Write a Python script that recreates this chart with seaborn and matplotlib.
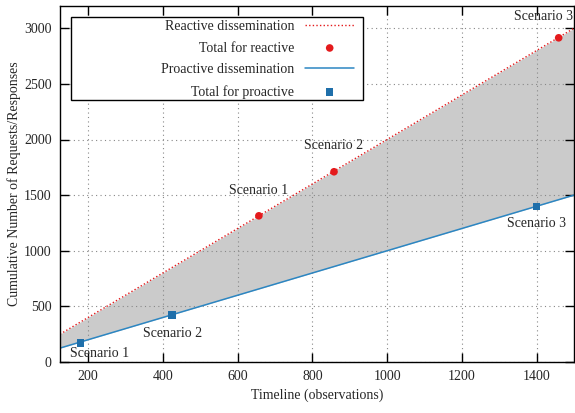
import matplotlib
matplotlib.use("Agg")
import matplotlib.pyplot as plt
from matplotlib.patches import Rectangle
import seaborn as sns
import pandas as pd

# dissemination lines (end points of the timeline)
line_x = [125, 1500]
reactive_line = [250, 3000]
proactive_line = [125, 1500]

# scenario totals
scenarios = ["Scenario 1", "Scenario 2", "Scenario 3"]
reactive_x = [657, 858, 1459]
reactive_y = [1314, 1710, 2914]
proactive_x = [179, 425, 1400]
proactive_y = [172, 422, 1395]

xticks = [200, 400, 600, 800, 1000, 1200, 1400]
yticks = [0, 500, 1000, 1500, 2000, 2500, 3000]

sns.set_style("ticks")
plt.rcParams["font.family"] = ["Liberation Serif", "DejaVu Serif"]
plt.rcParams["font.size"] = 10
plt.rcParams["xtick.direction"] = "in"
plt.rcParams["ytick.direction"] = "in"

red = "#e41a1c"
blue = "#2c86c2"
blue_sq = "#1f6faa"

fig = plt.figure(figsize=(5.75, 4.13), dpi=100)
ax = fig.add_axes([60 / 575, 51 / 413, 514 / 575, 356 / 413])

lines = pd.DataFrame({"x": line_x, "reactive": reactive_line, "proactive": proactive_line})
ax.fill_between(lines["x"], lines["proactive"], lines["reactive"], color="#cbcbcb", lw=0, zorder=1)
sns.lineplot(data=lines, x="x", y="reactive", ax=ax, color=red, lw=1, ls=(0, (1, 1.6)),
             label="Reactive dissemination", zorder=3)
sns.scatterplot(x=reactive_x, y=reactive_y, ax=ax, color=red, marker="o", s=30,
                edgecolor="none", label="Total for reactive", zorder=4)
sns.lineplot(data=lines, x="x", y="proactive", ax=ax, color=blue, lw=1.1,
             label="Proactive dissemination", zorder=3)
sns.scatterplot(x=proactive_x, y=proactive_y, ax=ax, color=blue_sq, marker="s", s=28,
                edgecolor="none", label="Total for proactive", zorder=4)

# scenario labels (offsets in points)
r_off = [(0, 18), (0, 19), (-11, 15)]
p_off = [(14, -8), (0, -13), (0, -12)]
for name, x, y, off in zip(scenarios, reactive_x, reactive_y, r_off):
    ax.annotate(name, (x, y), xytext=off, textcoords="offset points",
                ha="center", va="center", zorder=5)
for name, x, y, off in zip(scenarios, proactive_x, proactive_y, p_off):
    ax.annotate(name, (x, y), xytext=off, textcoords="offset points",
                ha="center", va="center", zorder=5)

ax.set_xlim(125, 1500)
ax.set_ylim(0, 3200)
ax.set_xticks(xticks)
ax.set_yticks(yticks)
ax.tick_params(top=True, right=True, length=6.5, width=1, color="black", pad=6)
ax.grid(True, ls=(0, (1, 3)), color="#888888", lw=0.8, zorder=2)
ax.set_axisbelow(False)
for s in ax.spines.values():
    s.set_linewidth(1)
    s.set_color("black")
    s.set_zorder(6)

ax.set_xlabel("Timeline (observations)", labelpad=4)
ax.set_ylabel("Cumulative Number of Requests/Responses", labelpad=2)

# legend box in gnuplot style
box = Rectangle((11 / 514, (362 - 100) / 356), 292 / 514, 83 / 356, transform=ax.transAxes,
                facecolor="white", edgecolor="black", lw=1, zorder=7)
ax.add_patch(box)
leg = ax.legend(loc="upper right", bbox_to_anchor=(294 / 514, (362 - 20) / 356),
                frameon=False, markerfirst=False, handlelength=3.5, handletextpad=0.8,
                labelspacing=0.62, borderaxespad=0, borderpad=0)
leg.set_zorder(8)

fig.savefig("out.png", dpi=100)
